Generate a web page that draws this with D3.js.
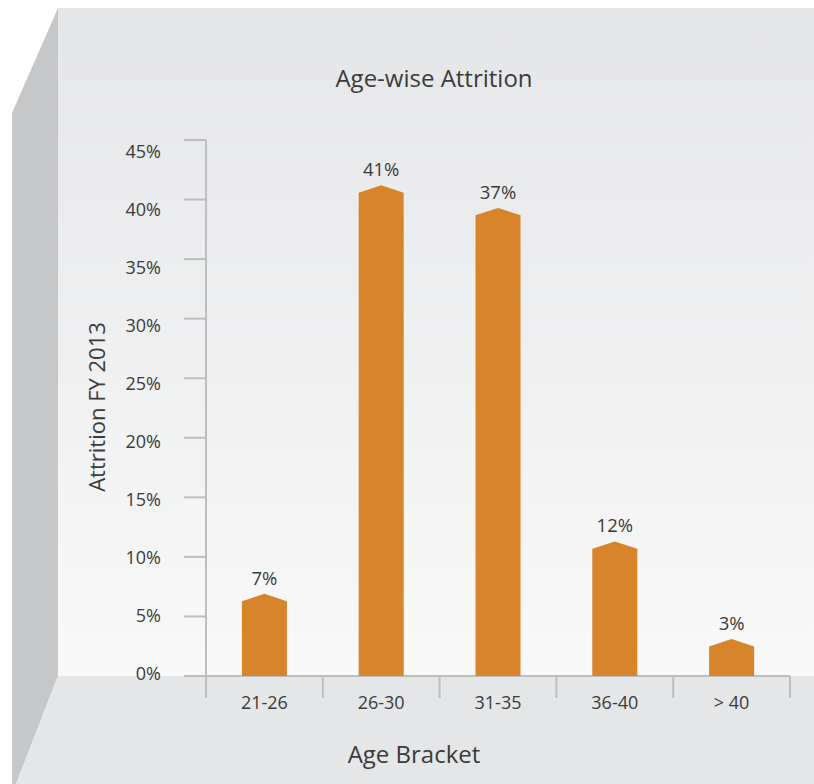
<!DOCTYPE html>
<html><head><meta charset="utf-8">
<script src="https://cdn.jsdelivr.net/npm/d3@7"></script>
<style>body{margin:0;background:#fff}svg{display:block}</style>
</head><body>
<script>
const categories = ["21-26","26-30","31-35","36-40","> 40"];
const values = [6.9, 41.2, 39.3, 11.3, 3.1];
const valueLabels = ["7%","41%","37%","12%","3%"];
const yTicks = [0,5,10,15,20,25,30,35,40,45];
const title = "Age-wise Attrition";
const xTitle = "Age Bracket";
const yTitle = "Attrition FY 2013";

const W = 814, H = 784;
const svg = d3.select("body").append("svg").attr("width", W).attr("height", H);
const defs = svg.append("defs");
const g = defs.append("linearGradient").attr("id","wall").attr("x1",0).attr("y1",0).attr("x2",0).attr("y2",1);
g.append("stop").attr("offset","0").attr("stop-color","#e5e6e8");
g.append("stop").attr("offset","1").attr("stop-color","#f9f9f9");

// 3D box
svg.append("rect").attr("x",58).attr("y",8).attr("width",W-58).attr("height",668).attr("fill","url(#wall)");
svg.append("polygon").attr("points","58,8 12,113 12,784 16,784 58,676").attr("fill","#c6c7c9");
svg.append("polygon").attr("points",`58,676 ${W},676 ${W},784 16,784`).attr("fill","#e5e6e8");

const x = d3.scaleBand().domain(categories).range([206,790]).paddingInner(0).paddingOuter(0);
const y = d3.scaleLinear().domain([0,45]).range([676,140]);
const yLab = d3.scaleLinear().domain([0,45]).range([674,152]);
const font = "'Open Sans', sans-serif";
const txt = "#3b3b3b";
const axisCol = "#bdbec0";

// y axis
const yAxis = svg.append("g");
yAxis.append("line").attr("x1",206).attr("x2",206).attr("y1",y(45)).attr("y2",698).attr("stroke",axisCol).attr("stroke-width",2);
yAxis.selectAll("line.t").data(yTicks).join("line").attr("class","t")
  .attr("x1",184).attr("x2",206).attr("y1",d=>y(d)).attr("y2",d=>y(d)).attr("stroke",axisCol).attr("stroke-width",2);
yAxis.selectAll("text").data(yTicks).join("text")
  .attr("x",161).attr("y",d=>yLab(d)).attr("dy","0.35em").attr("text-anchor","end")
  .attr("font-family",font).attr("font-size",18).attr("fill",txt).text(d=>d+"%");

// x axis
const xAxis = svg.append("g");
xAxis.append("line").attr("x1",184).attr("x2",790).attr("y1",676).attr("y2",676).attr("stroke",axisCol).attr("stroke-width",2);
const edges = categories.map(c=>x(c)).concat([x.range()[1]]);
xAxis.selectAll("line.t").data(edges).join("line").attr("class","t")
  .attr("x1",d=>d).attr("x2",d=>d).attr("y1",676).attr("y2",698).attr("stroke",axisCol).attr("stroke-width",2);
xAxis.selectAll("text").data(categories).join("text")
  .attr("x",d=>x(d)+x.bandwidth()/2).attr("y",709).attr("text-anchor","middle")
  .attr("font-family",font).attr("font-size",18).attr("fill",txt).text(d=>d);

// bars with pointed tops
const bw = 45, roof = 7.4;
svg.append("g").selectAll("path").data(categories).join("path")
  .attr("d",(c,i)=>{
    const cx = x(c)+x.bandwidth()/2, l = cx-bw/2, r = cx+bw/2, top = y(values[i]);
    return `M${l},${y(0)}L${l},${top+roof}L${cx},${top}L${r},${top+roof}L${r},${y(0)}Z`;
  }).attr("fill","#d8842a");
svg.append("g").selectAll("text").data(categories).join("text")
  .attr("x",c=>x(c)+x.bandwidth()/2).attr("y",(c,i)=>y(values[i])-9).attr("text-anchor","middle")
  .attr("font-family",font).attr("font-size",18.5).attr("fill",txt).text((c,i)=>valueLabels[i]);

// titles
svg.append("text").attr("x",434).attr("y",87).attr("text-anchor","middle")
  .attr("font-family",font).attr("font-size",24).attr("fill",txt).text(title);
svg.append("text").attr("x",414).attr("y",763).attr("text-anchor","middle")
  .attr("font-family",font).attr("font-size",24).attr("fill",txt).text(xTitle);
svg.append("text").attr("transform","translate(105,407) rotate(-90)").attr("text-anchor","middle")
  .attr("font-family",font).attr("font-size",22).attr("fill",txt).text(yTitle);
</script>
</body></html>
